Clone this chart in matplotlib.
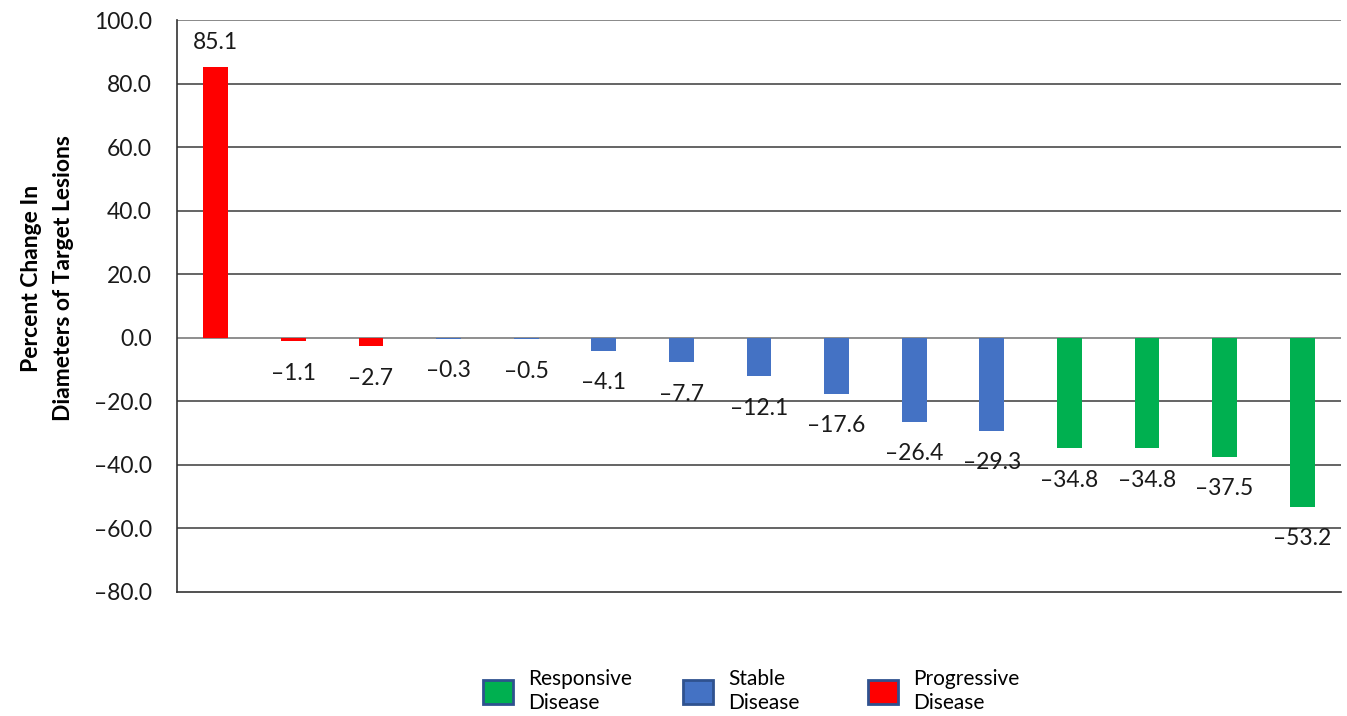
import matplotlib.pyplot as plt
from matplotlib.patches import Patch

# percent change per patient, ordered as in the waterfall
values = [85.1, -1.1, -2.7, -0.3, -0.5, -4.1, -7.7, -12.1, -17.6, -26.4, -29.3,
          -34.8, -34.8, -37.5, -53.2]
response = ['PD', 'PD', 'PD', 'SD', 'SD', 'SD', 'SD', 'SD', 'SD', 'SD', 'SD',
            'RD', 'RD', 'RD', 'RD']
y_ticks = [100, 80, 60, 40, 20, 0, -20, -40, -60, -80]

colors = {'RD': '#00B050', 'SD': '#4472C4', 'PD': '#FF0000'}
names = {'RD': 'Responsive\nDisease', 'SD': 'Stable\nDisease', 'PD': 'Progressive\nDisease'}

plt.rcParams['font.family'] = ['Lato', 'DejaVu Sans']


def fmt(v):
    s = f"{abs(v):.1f}"
    return s if v >= 0 else '\u2013' + s


fig = plt.figure(figsize=(13.47, 7.16), dpi=100)
ax = fig.add_axes([0.1314, 0.1732, 0.8641, 0.7988])

x = list(range(len(values)))
ax.bar(x, values, width=0.32, color=[colors[r] for r in response], zorder=3)

for xi, v in zip(x, values):
    off = 18 if v > 0 else -23
    ax.annotate(fmt(v), (xi, v), xytext=(0, off), textcoords='offset points',
                ha='center', va='center', fontsize=16.5, color='#1a1a1a')

ax.set_xlim(-0.5, len(values) - 0.5)
ax.set_ylim(-80, 100)
ax.set_yticks(y_ticks)
ax.set_yticklabels([fmt(t) for t in y_ticks], fontsize=16.5, color='#1a1a1a')
ax.set_xticks([])
ax.tick_params(axis='y', length=0, pad=18)

for t in y_ticks[1:-1]:
    ax.axhline(t, color='#3a3a3a' if t != 0 else '#707070', lw=1.1, zorder=1)
ax.axhline(100, color='#808080', lw=1.3, zorder=1)

for s in ['top', 'right']:
    ax.spines[s].set_visible(False)
ax.spines['left'].set_color('#333333')
ax.spines['bottom'].set_color('#333333')
ax.spines['left'].set_linewidth(1.2)
ax.spines['bottom'].set_linewidth(1.2)

fig.text(0.035, 0.172 + 0.7988 * 0.55, 'Percent Change In\nDiameters of Target Lesions',
         rotation=90, ha='center', va='center', fontsize=16.5, fontweight='bold',
         linespacing=1.65)

# one legend entry per disease group, placed along the bottom
legend_x = {'RD': 483, 'SD': 683, 'PD': 868}
for k in ['RD', 'SD', 'PD']:
    h = Patch(facecolor=colors[k], edgecolor='#2F528F', linewidth=2, label=names[k])
    leg = fig.legend(handles=[h], loc='center left',
                     bbox_to_anchor=(legend_x[k] / 1347, 0.035),
                     frameon=False, fontsize=15, handlelength=1.45, handleheight=1.45,
                     handletextpad=0.7, borderpad=0, borderaxespad=0)
    for txt in leg.get_texts():
        txt.set_linespacing(1.3)

fig.savefig('out.png', dpi=100)
